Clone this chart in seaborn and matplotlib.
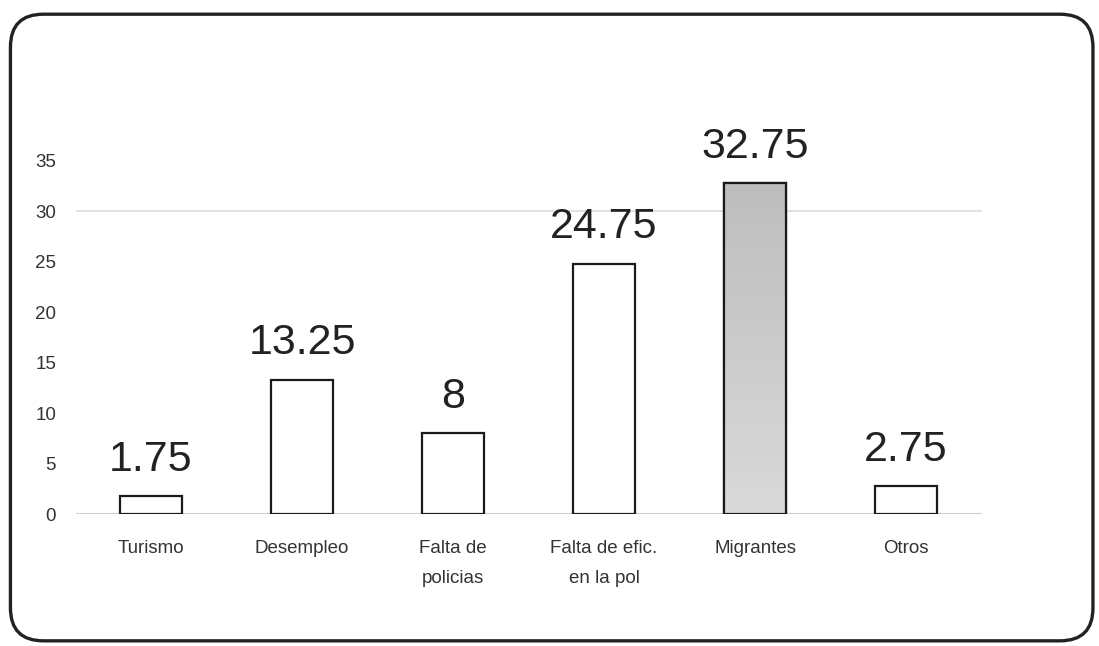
import matplotlib
matplotlib.use("Agg")
import matplotlib.pyplot as plt
from matplotlib.patches import FancyBboxPatch
import numpy as np
import pandas as pd
import seaborn as sns

categories = ["Turismo", "Desempleo", "Falta de\npolicias", "Falta de efic.\nen la pol", "Migrantes", "Otros"]
values = [1.75, 13.25, 8, 24.75, 32.75, 2.75]
value_labels = ["1.75", "13.25", "8", "24.75", "32.75", "2.75"]
yticks = [0, 5, 10, 15, 20, 25, 30, 35]
highlight = "Migrantes"

sns.set_theme(style="white")
plt.rcParams["font.family"] = ["Liberation Sans", "DejaVu Sans"]

fig = plt.figure(figsize=(10.99, 6.46), dpi=100)
ax = fig.add_axes([0.0687, 0.2043, 0.8244, 0.7036])

df = pd.DataFrame({"cat": categories, "val": values})
sns.barplot(data=df, x="cat", y="val", ax=ax, color="white", width=0.41,
            edgecolor="#1a1a1a", linewidth=1.6, saturation=1)

# gradient fill for highlighted bar
for patch, cat in zip(ax.patches, categories):
    if cat == highlight:
        x0, y0 = patch.get_x(), patch.get_y()
        w, h = patch.get_width(), patch.get_height()
        grad = np.linspace(0.74, 0.85, 100).reshape(-1, 1)
        im = ax.imshow(grad, cmap="gray", vmin=0, vmax=1, aspect="auto",
                       extent=[x0, x0 + w, y0, y0 + h], origin="upper", zorder=patch.get_zorder() + 0.1)
        im.set_clip_path(patch)
        border = plt.Rectangle((x0, y0), w, h, fill=False, edgecolor="#1a1a1a", linewidth=1.6,
                               zorder=patch.get_zorder() + 0.2)
        ax.add_patch(border)

for i, (v, lab) in enumerate(zip(values, value_labels)):
    ax.annotate(lab, xy=(i, v), xytext=(0, 18.5), textcoords="offset points",
                ha="center", va="baseline", fontsize=31, color="#222222")

ax.axhline(30, color="#dcdcdc", linewidth=1.2, zorder=0)
ax.axhline(0, color="#d0d0d0", linewidth=1.5, zorder=0)

ax.set_xlim(-0.5, 5.5)
ax.set_ylim(0, 45)
ax.set_yticks(yticks)
ax.set_yticklabels([str(t) for t in yticks])
ax.set_xlabel("")
ax.set_ylabel("")
for s in ax.spines.values():
    s.set_visible(False)
ax.tick_params(axis="y", length=0, pad=14, labelsize=13.5, labelcolor="#333333")
ax.tick_params(axis="x", length=0, pad=19, labelsize=13.5, labelcolor="#333333")
for t in ax.get_xticklabels():
    t.set_linespacing(2.0)
ax.grid(False)
ax.set_facecolor("none")

frame = FancyBboxPatch((0.0095, 0.008), 0.985, 0.970, boxstyle="round,pad=0,rounding_size=0.03",
                       transform=fig.transFigure, fill=False, edgecolor="#222222", linewidth=2.4,
                       mutation_aspect=1099 / 646)
fig.patches.append(frame)

fig.savefig("out.png", dpi=100)
